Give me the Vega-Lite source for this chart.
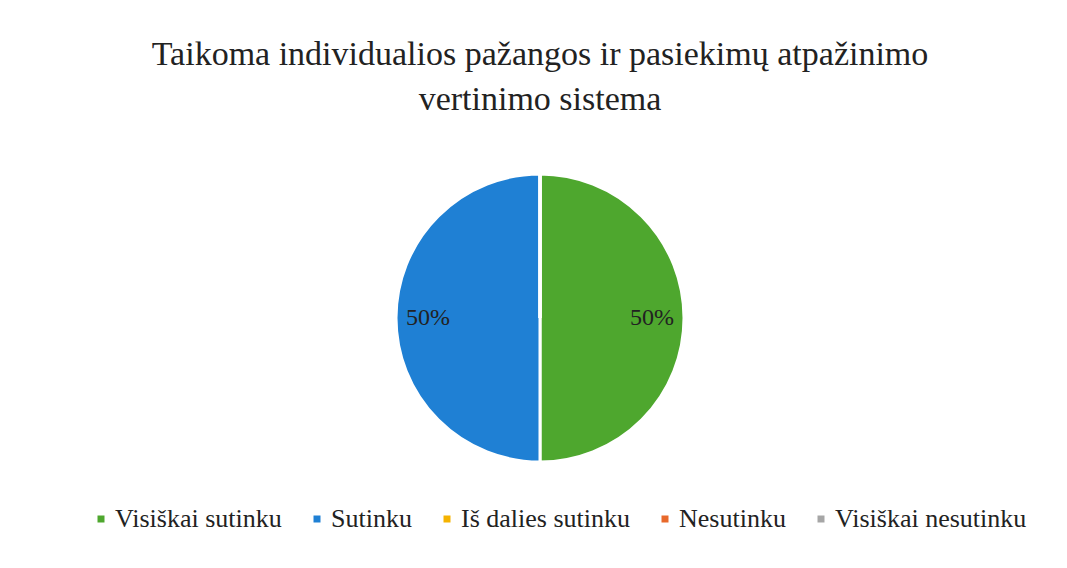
{
  "$schema": "https://vega.github.io/schema/vega-lite/v6.json",
  "width": 1054,
  "height": 356,
  "autosize": {"type": "none"},
  "padding": {"top": 140, "left": 13, "right": 0, "bottom": 72},
  "background": "white",
  "title": {
    "text": ["Taikoma individualios pažangos ir pasiekimų atpažinimo", "vertinimo sistema"],
    "font": "Liberation Serif",
    "fontSize": 34,
    "fontWeight": "normal",
    "color": "#222222",
    "anchor": "middle",
    "lineHeight": 45,
    "offset": 23
  },
  "data": {
    "values": [
      {"category": "Visiškai sutinku", "share": 0.5, "order": 1},
      {"category": "Sutinku", "share": 0.5, "order": 2},
      {"category": "Iš dalies sutinku", "share": 0, "order": 3},
      {"category": "Nesutinku", "share": 0, "order": 4},
      {"category": "Visiškai nesutinku", "share": 0, "order": 5}
    ]
  },
  "encoding": {
    "theta": {"field": "share", "type": "quantitative", "stack": true},
    "order": {"field": "order", "type": "quantitative"},
    "color": {
      "field": "category",
      "type": "nominal",
      "scale": {
        "domain": ["Visiškai sutinku", "Sutinku", "Iš dalies sutinku", "Nesutinku", "Visiškai nesutinku"],
        "range": ["#4ea72e", "#1f80d4", "#f5b300", "#e8692b", "#a6a6a6"]
      },
      "legend": {
        "title": null,
        "orient": "none",
        "legendX": 75,
        "legendY": 366,
        "direction": "horizontal",
        "symbolType": "square",
        "symbolSize": 49,
        "symbolStrokeWidth": 0,
        "labelFont": "Liberation Serif",
        "labelFontSize": 26,
        "labelColor": "#222222",
        "labelLimit": 400,
        "columnPadding": 22,
        "labelOffset": 1
      }
    }
  },
  "layer": [
    {
      "mark": {"type": "arc", "radius": 144, "stroke": "white", "strokeWidth": 3}
    },
    {
      "transform": [{"filter": "datum.share > 0"}],
      "mark": {"type": "text", "radius": 112, "font": "Liberation Serif", "fontSize": 24},
      "encoding": {
        "text": {"field": "share", "type": "quantitative", "format": ".0%"},
        "color": {"value": "#222222"}
      }
    }
  ],
  "config": {
    "view": {"stroke": null}
  }
}
